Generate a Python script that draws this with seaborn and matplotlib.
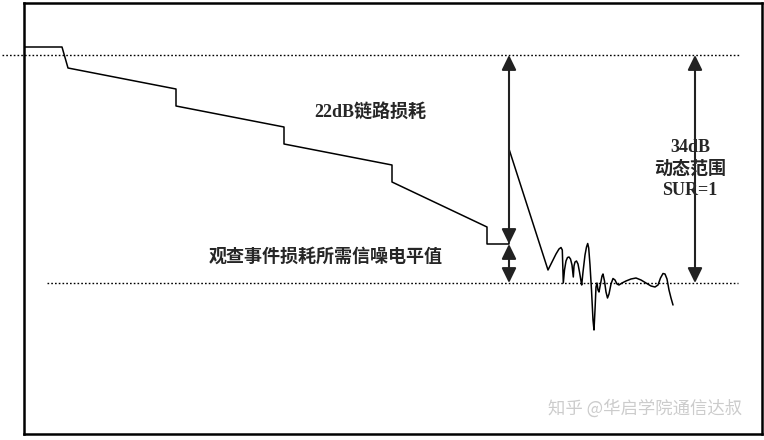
import numpy as np
import pandas as pd
import seaborn as sns
import matplotlib.pyplot as plt

# OTDR trace (x = distance, y = level, screen units, y grows downward)
trace_x = [25, 62, 68, 176, 176, 284, 284, 392, 392, 487, 487, 509, 509]
trace_y = [47, 47, 68, 89, 106, 127, 144, 165, 182, 227, 244, 244, 149]

# reflection peak and the noise after the fibre end
noise_x = [509, 548, 552, 556, 559, 561, 562.3, 563.3, 564.5, 566, 567.5, 569, 570.5, 572, 573.3,
           574, 575, 576.5, 578, 579.5, 581, 581.7, 583, 585, 586.5, 587.7, 588.7, 590, 591.5,
           593, 594, 595, 596, 597, 598, 599, 600.5, 602, 603, 604.5, 606, 607.5, 609, 611,
           613, 615, 617, 619, 622, 626, 631, 636, 641, 646, 651, 655, 658, 660.5, 663, 665,
           667, 669, 671, 673]
noise_y = [149, 270, 262, 254, 249, 247.5, 250, 283, 270, 261, 257.5, 257, 259, 265, 277,
           266, 262, 261, 264, 272, 281, 285, 272, 255, 247, 243.5, 248, 265, 290,
           320, 330, 310, 287, 283, 290, 292, 284, 276, 274, 281, 292, 298, 294, 284,
           278.5, 280, 284, 285, 283, 281, 279, 278, 280, 283, 286, 287, 285, 278, 273.5, 274,
           279, 290, 298, 305]

top_level = 55       # launch level line
noise_level = 283    # noise floor line
event_level = 244    # end of trace level
arrow_left_x = 509
arrow_right_x = 695

label_link = '22dB链路损耗'
label_snr = '观查事件损耗所需信噪电平值'
label_range = '34dB\n动态范围\nSUR=1'
watermark = '知乎 @华启学院通信达叔'

sns.set_style('white')
plt.rcParams['font.family'] = ['Liberation Serif', 'Noto Sans CJK SC', 'DejaVu Sans']

fig = plt.figure(figsize=(7.64, 4.40), dpi=100)
ax = fig.add_axes([24 / 764, 6 / 440, 738 / 764, 431 / 440])
ax.set_xlim(24, 762)
ax.set_ylim(434, 3)
ax.set_xticks([])
ax.set_yticks([])
for s in ax.spines.values():
    s.set_linewidth(1.8)
    s.set_color('black')

df = pd.DataFrame({'x': trace_x + noise_x, 'y': trace_y + noise_y,
                   'part': ['trace'] * len(trace_x) + ['noise'] * len(noise_x)})
sns.lineplot(data=df[df.part == 'trace'], x='x', y='y', sort=False, estimator=None,
             color='black', lw=1.1, ax=ax)
sns.lineplot(data=df[df.part == 'noise'], x='x', y='y', sort=False, estimator=None,
             color='black', lw=1.1, ax=ax)
ax.set_xlabel('')
ax.set_ylabel('')

dot = (0, (1.2, 1.5))
ax.plot([2, 740], [top_level, top_level], color='black', lw=1, ls=dot, clip_on=False)
ax.plot([47, 738], [noise_level, noise_level], color='black', lw=1, ls=dot, clip_on=False)

ap = dict(arrowstyle='<|-|>,head_length=0.45,head_width=0.22', mutation_scale=20, lw=1.5,
          color='#222222', shrinkA=0, shrinkB=0)
ax.annotate('', xy=(arrow_left_x, top_level), xytext=(arrow_left_x, event_level), arrowprops=ap)
ax.annotate('', xy=(arrow_left_x, event_level), xytext=(arrow_left_x, noise_level), arrowprops=ap)
ax.annotate('', xy=(arrow_right_x, top_level), xytext=(arrow_right_x, noise_level), arrowprops=ap)

ax.text(370, 112, label_link, fontsize=13, fontweight='bold', ha='center', va='center')
ax.text(326, 257, label_snr, fontsize=13, fontweight='bold', ha='center', va='center')
ax.text(690, 169, label_range, fontsize=13, fontweight='bold', ha='center', va='center',
        linespacing=1.35)
ax.text(645, 408, watermark, fontsize=12.5, color='#cccccc', ha='center', va='center',
        family=['Noto Sans CJK SC', 'DejaVu Sans'])

fig.savefig('out.png', dpi=100)
